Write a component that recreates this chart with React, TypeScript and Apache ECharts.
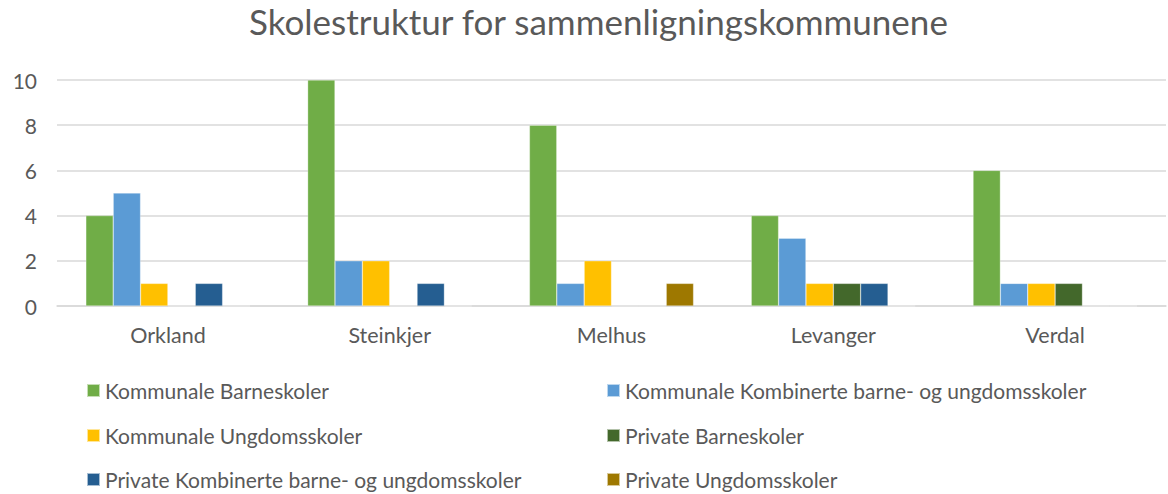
import React, { useEffect, useRef } from "react";
import * as echarts from "echarts";

const categories = ["Orkland", "Steinkjer", "Melhus", "Levanger", "Verdal"];
const seriesNames = [
  "Kommunale Barneskoler",
  "Kommunale Kombinerte barne- og ungdomsskoler",
  "Kommunale Ungdomsskoler",
  "Private Barneskoler",
  "Private Kombinerte barne- og ungdomsskoler",
  "Private Ungdomsskoler",
];
const kommunaleBarneskoler = [4, 10, 8, 4, 6];
const kommunaleKombinerte = [5, 2, 1, 3, 1];
const kommunaleUngdomsskoler = [1, 2, 2, 1, 1];
const privateBarneskoler = [0, 0, 0, 1, 1];
const privateKombinerte = [1, 1, 0, 1, 0];
const privateUngdomsskoler = [0, 0, 1, 0, 0];
const seriesValues = [
  kommunaleBarneskoler,
  kommunaleKombinerte,
  kommunaleUngdomsskoler,
  privateBarneskoler,
  privateKombinerte,
  privateUngdomsskoler,
];
const colors = ["#70AD47", "#5B9BD5", "#FFC000", "#43682B", "#255E91", "#9E7800"];

const FONT = "Lato, 'Open Sans', sans-serif";
const TXT = "#595959";

export default function App() {
  const ref = useRef<HTMLDivElement>(null);
  useEffect(() => {
    const chart = echarts.init(ref.current!, undefined, { renderer: "svg" });
    const legendPos = [
      { left: 86, top: 380 },
      { left: 606, top: 380 },
      { left: 86, top: 425 },
      { left: 606, top: 425 },
      { left: 86, top: 469 },
      { left: 606, top: 469 },
    ];
    chart.setOption({
      animation: false,
      color: colors,
      title: {
        text: "Skolestruktur for sammenligningskommunene",
        left: 249,
        top: 3,
        padding: 0,
        textStyle: { fontFamily: FONT, fontSize: 35, fontWeight: "normal", color: TXT },
      },
      legend: seriesNames.map((n, i) => ({
        data: [n],
        left: legendPos[i].left,
        top: legendPos[i].top,
        icon: "rect",
        itemWidth: 13,
        itemHeight: 13,
        itemGap: 0,
        padding: 0,
        selectedMode: false,
        textStyle: { fontFamily: FONT, fontSize: 21, color: TXT },
      })),
      grid: { left: 57, right: 2, top: 80, bottom: 188, containLabel: false },
      xAxis: {
        type: "category",
        data: categories,
        axisLine: { lineStyle: { color: "#d9d9d9", width: 1.5 } },
        axisTick: { show: false },
        axisLabel: { fontFamily: FONT, fontSize: 21.5, color: TXT, margin: 18 },
      },
      yAxis: {
        type: "value",
        min: 0,
        max: 10,
        interval: 2,
        axisLine: { show: false },
        axisTick: { show: false },
        axisLabel: { fontFamily: FONT, fontSize: 21, color: TXT, margin: 20 },
        splitLine: { lineStyle: { color: "#d9d9d9", width: 1.5 } },
      },
      series: seriesNames.map((n, i) => ({
        name: n,
        type: "bar",
        data: seriesValues[i],
        barGap: "0%",
        barCategoryGap: "26%",
        itemStyle: { borderColor: "rgba(255,255,255,0.6)", borderWidth: 0.5 },
      })),
    });
    return () => chart.dispose();
  }, []);
  return <div ref={ref} style={{ width: 1168, height: 494, position: "absolute", left: 0, top: 0 }} />;
}
